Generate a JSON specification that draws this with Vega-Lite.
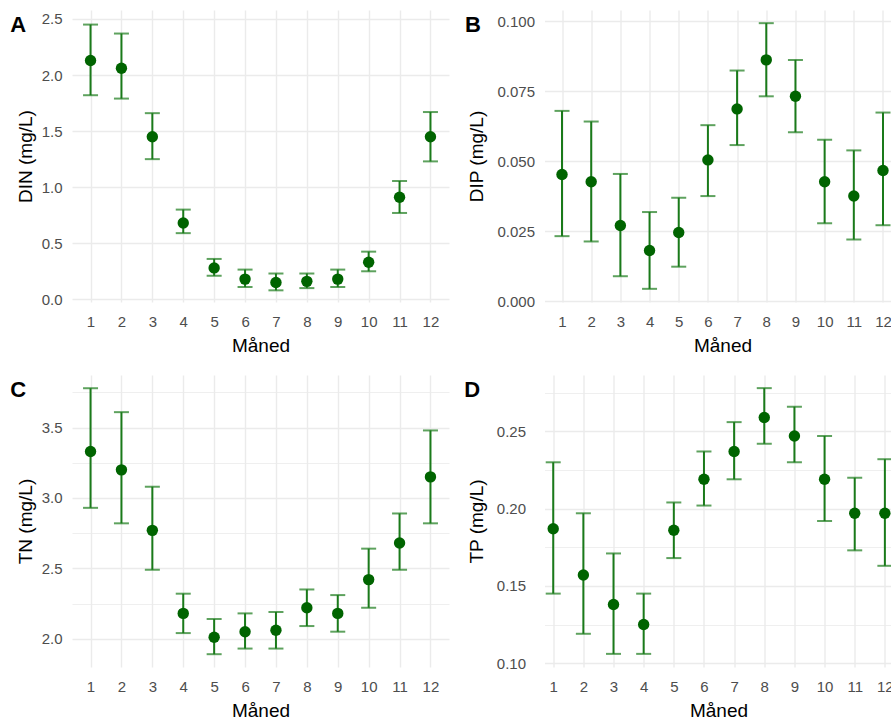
{
  "$schema": "https://vega.github.io/schema/vega-lite/v6.json",
  "padding": {"left": 10, "top": 10, "right": 0, "bottom": 0},
  "background": "white",
  "bounds": "flush",
  "columns": 2,
  "spacing": {"row": 73, "column": 95.5},
  "datasets": {
    "din": [
      {"month": 1, "mean": 2.13, "lo": 1.82, "hi": 2.45},
      {"month": 2, "mean": 2.06, "lo": 1.79, "hi": 2.37},
      {"month": 3, "mean": 1.45, "lo": 1.25, "hi": 1.66},
      {"month": 4, "mean": 0.68, "lo": 0.59, "hi": 0.8},
      {"month": 5, "mean": 0.28, "lo": 0.21, "hi": 0.36},
      {"month": 6, "mean": 0.18, "lo": 0.11, "hi": 0.265},
      {"month": 7, "mean": 0.15, "lo": 0.08, "hi": 0.23},
      {"month": 8, "mean": 0.16, "lo": 0.1, "hi": 0.23},
      {"month": 9, "mean": 0.18, "lo": 0.11, "hi": 0.265},
      {"month": 10, "mean": 0.33, "lo": 0.25, "hi": 0.425},
      {"month": 11, "mean": 0.91, "lo": 0.77, "hi": 1.055},
      {"month": 12, "mean": 1.45, "lo": 1.23, "hi": 1.67}
    ],
    "dip": [
      {"month": 1, "mean": 0.0453, "lo": 0.0233, "hi": 0.068},
      {"month": 2, "mean": 0.0427, "lo": 0.0214, "hi": 0.0642},
      {"month": 3, "mean": 0.0271, "lo": 0.009, "hi": 0.0455},
      {"month": 4, "mean": 0.0182, "lo": 0.0045, "hi": 0.0319},
      {"month": 5, "mean": 0.0246, "lo": 0.0124, "hi": 0.037},
      {"month": 6, "mean": 0.0505, "lo": 0.0376, "hi": 0.0629},
      {"month": 7, "mean": 0.0687, "lo": 0.0558, "hi": 0.0824},
      {"month": 8, "mean": 0.0862, "lo": 0.0732, "hi": 0.0993},
      {"month": 9, "mean": 0.0732, "lo": 0.0604, "hi": 0.0862},
      {"month": 10, "mean": 0.0427, "lo": 0.0279, "hi": 0.0577},
      {"month": 11, "mean": 0.0376, "lo": 0.0221, "hi": 0.0539},
      {"month": 12, "mean": 0.0467, "lo": 0.0272, "hi": 0.0674}
    ],
    "tn": [
      {"month": 1, "mean": 3.33, "lo": 2.93, "hi": 3.78},
      {"month": 2, "mean": 3.2, "lo": 2.82, "hi": 3.61},
      {"month": 3, "mean": 2.77, "lo": 2.49, "hi": 3.08},
      {"month": 4, "mean": 2.18, "lo": 2.04, "hi": 2.32},
      {"month": 5, "mean": 2.01, "lo": 1.89, "hi": 2.14},
      {"month": 6, "mean": 2.05, "lo": 1.93, "hi": 2.18},
      {"month": 7, "mean": 2.06, "lo": 1.93, "hi": 2.19},
      {"month": 8, "mean": 2.22, "lo": 2.09, "hi": 2.35},
      {"month": 9, "mean": 2.18, "lo": 2.05, "hi": 2.31},
      {"month": 10, "mean": 2.42, "lo": 2.22, "hi": 2.64},
      {"month": 11, "mean": 2.68, "lo": 2.49, "hi": 2.89},
      {"month": 12, "mean": 3.15, "lo": 2.82, "hi": 3.48}
    ],
    "tp": [
      {"month": 1, "mean": 0.187, "lo": 0.145, "hi": 0.23},
      {"month": 2, "mean": 0.157, "lo": 0.119, "hi": 0.197},
      {"month": 3, "mean": 0.138, "lo": 0.106, "hi": 0.171},
      {"month": 4, "mean": 0.125, "lo": 0.106, "hi": 0.145},
      {"month": 5, "mean": 0.186, "lo": 0.168, "hi": 0.204},
      {"month": 6, "mean": 0.219, "lo": 0.202, "hi": 0.237},
      {"month": 7, "mean": 0.237, "lo": 0.219, "hi": 0.256},
      {"month": 8, "mean": 0.259, "lo": 0.242, "hi": 0.278},
      {"month": 9, "mean": 0.247, "lo": 0.23, "hi": 0.266},
      {"month": 10, "mean": 0.219, "lo": 0.192, "hi": 0.247},
      {"month": 11, "mean": 0.197, "lo": 0.173, "hi": 0.22},
      {"month": 12, "mean": 0.197, "lo": 0.163, "hi": 0.232}
    ]
  },
  "concat": [
    {
      "width": 377, "height": 292,
      "data": {"name": "din"},
      "title": {"text": "A", "dx": -6},
      "encoding": {"x": {"field": "month", "type": "quantitative", "title": "Måned", "scale": {"domain": [0.4, 12.6], "nice": false, "zero": false}, "axis": {"values": [1,2,3,4,5,6,7,8,9,10,11,12], "format": "d"}}},
      "layer": [
        {"mark": {"type": "rule", "color": "#1a7a1a", "strokeWidth": 2},
         "encoding": {"y": {"field": "lo", "type": "quantitative", "title": "DIN (mg/L)", "scale": {"domain": [-0.024, 2.58], "nice": false, "zero": false},
           "axis": {"values": [0,0.25,0.5,0.75,1,1.25,1.5,1.75,2,2.25,2.5],
             "labelExpr": "abs(datum.value*2 - round(datum.value*2)) < 1e-6 ? format(datum.value, '.1f') : ''",
             "gridWidth": {"condition": {"test": "abs(datum.value*2 - round(datum.value*2)) > 1e-6", "value": 0.8}, "value": 1.4}}},
           "y2": {"field": "hi"}}},
        {"mark": {"type": "tick", "orient": "horizontal", "size": 15, "thickness": 2, "color": "#1a7a1a"},
         "encoding": {"y": {"field": "hi", "type": "quantitative", "title": "DIN (mg/L)"}}},
        {"mark": {"type": "tick", "orient": "horizontal", "size": 15, "thickness": 2, "color": "#1a7a1a"},
         "encoding": {"y": {"field": "lo", "type": "quantitative", "title": "DIN (mg/L)"}}},
        {"mark": {"type": "point", "filled": true, "size": 130, "color": "#006400", "opacity": 1},
         "encoding": {"y": {"field": "mean", "type": "quantitative", "title": "DIN (mg/L)"}}}
      ]
    },
    {
      "width": 356, "height": 292,
      "data": {"name": "dip"},
      "title": {"text": "B", "dx": -3},
      "encoding": {"x": {"field": "month", "type": "quantitative", "title": "Måned", "scale": {"domain": [0.4, 12.6], "nice": false, "zero": false}, "axis": {"values": [1,2,3,4,5,6,7,8,9,10,11,12], "format": "d"}}},
      "layer": [
        {"mark": {"type": "rule", "color": "#1a7a1a", "strokeWidth": 2},
         "encoding": {"y": {"field": "lo", "type": "quantitative", "title": "DIP (mg/L)", "scale": {"domain": [-0.0002, 0.104], "nice": false, "zero": false},
           "axis": {"values": [0,0.0125,0.025,0.0375,0.05,0.0625,0.075,0.0875,0.1], "titlePadding": 10,
             "labelExpr": "abs(datum.value*40 - round(datum.value*40)) < 1e-6 ? format(datum.value, '.3f') : ''",
             "gridWidth": {"condition": {"test": "abs(datum.value*40 - round(datum.value*40)) > 1e-6", "value": 0.8}, "value": 1.4}}},
           "y2": {"field": "hi"}}},
        {"mark": {"type": "tick", "orient": "horizontal", "size": 15, "thickness": 2, "color": "#1a7a1a"},
         "encoding": {"y": {"field": "hi", "type": "quantitative", "title": "DIP (mg/L)"}}},
        {"mark": {"type": "tick", "orient": "horizontal", "size": 15, "thickness": 2, "color": "#1a7a1a"},
         "encoding": {"y": {"field": "lo", "type": "quantitative", "title": "DIP (mg/L)"}}},
        {"mark": {"type": "point", "filled": true, "size": 130, "color": "#006400", "opacity": 1},
         "encoding": {"y": {"field": "mean", "type": "quantitative", "title": "DIP (mg/L)"}}}
      ]
    },
    {
      "width": 377, "height": 292,
      "data": {"name": "tn"},
      "title": {"text": "C", "dx": -6},
      "encoding": {"x": {"field": "month", "type": "quantitative", "title": "Måned", "scale": {"domain": [0.4, 12.6], "nice": false, "zero": false}, "axis": {"values": [1,2,3,4,5,6,7,8,9,10,11,12], "format": "d"}}},
      "layer": [
        {"mark": {"type": "rule", "color": "#1a7a1a", "strokeWidth": 2},
         "encoding": {"y": {"field": "lo", "type": "quantitative", "title": "TN (mg/L)", "scale": {"domain": [1.799, 3.874], "nice": false, "zero": false},
           "axis": {"values": [2,2.25,2.5,2.75,3,3.25,3.5,3.75],
             "labelExpr": "abs(datum.value*2 - round(datum.value*2)) < 1e-6 ? format(datum.value, '.1f') : ''",
             "gridWidth": {"condition": {"test": "abs(datum.value*2 - round(datum.value*2)) > 1e-6", "value": 0.8}, "value": 1.4}}},
           "y2": {"field": "hi"}}},
        {"mark": {"type": "tick", "orient": "horizontal", "size": 15, "thickness": 2, "color": "#1a7a1a"},
         "encoding": {"y": {"field": "hi", "type": "quantitative", "title": "TN (mg/L)"}}},
        {"mark": {"type": "tick", "orient": "horizontal", "size": 15, "thickness": 2, "color": "#1a7a1a"},
         "encoding": {"y": {"field": "lo", "type": "quantitative", "title": "TN (mg/L)"}}},
        {"mark": {"type": "point", "filled": true, "size": 130, "color": "#006400", "opacity": 1},
         "encoding": {"y": {"field": "mean", "type": "quantitative", "title": "TN (mg/L)"}}}
      ]
    },
    {
      "width": 348, "height": 292,
      "data": {"name": "tp"},
      "title": {"text": "D", "dx": -3},
      "encoding": {"x": {"field": "month", "type": "quantitative", "title": "Måned", "scale": {"domain": [0.711, 12.253], "nice": false, "zero": false}, "axis": {"values": [1,2,3,4,5,6,7,8,9,10,11,12], "format": "d"}}},
      "layer": [
        {"mark": {"type": "rule", "color": "#1a7a1a", "strokeWidth": 2},
         "encoding": {"y": {"field": "lo", "type": "quantitative", "title": "TP (mg/L)", "scale": {"domain": [0.0975, 0.2865], "nice": false, "zero": false},
           "axis": {"values": [0.1,0.125,0.15,0.175,0.2,0.225,0.25,0.275], "labelPadding": 19, "titlePadding": 10,
             "labelExpr": "abs(datum.value*20 - round(datum.value*20)) < 1e-6 ? format(datum.value, '.2f') : ''",
             "gridWidth": {"condition": {"test": "abs(datum.value*20 - round(datum.value*20)) > 1e-6", "value": 0.8}, "value": 1.4}}},
           "y2": {"field": "hi"}}},
        {"mark": {"type": "tick", "orient": "horizontal", "size": 15, "thickness": 2, "color": "#1a7a1a"},
         "encoding": {"y": {"field": "hi", "type": "quantitative", "title": "TP (mg/L)"}}},
        {"mark": {"type": "tick", "orient": "horizontal", "size": 15, "thickness": 2, "color": "#1a7a1a"},
         "encoding": {"y": {"field": "lo", "type": "quantitative", "title": "TP (mg/L)"}}},
        {"mark": {"type": "point", "filled": true, "size": 130, "color": "#006400", "opacity": 1},
         "encoding": {"y": {"field": "mean", "type": "quantitative", "title": "TP (mg/L)"}}}
      ]
    }
  ],
  "config": {
    "font": "Liberation Sans",
    "view": {"stroke": null},
    "axis": {
      "domain": false,
      "ticks": false,
      "gridColor": "#EBEBEB",
      "gridWidth": 1.4,
      "labelColor": "#4D4D4D",
      "labelFontSize": 15,
      "titleFontSize": 19,
      "titleFontWeight": "normal",
      "titleColor": "#000000"
    },
    "axisX": {"labelPadding": 12, "titlePadding": 7},
    "axisY": {"labelPadding": 10, "titlePadding": 6},
    "title": {
      "anchor": "start",
      "frame": "bounds",
      "fontSize": 22,
      "fontWeight": "bold",
      "color": "#000000",
      "baseline": "top",
      "offset": -27,
      "orient": "top"
    }
  }
}
